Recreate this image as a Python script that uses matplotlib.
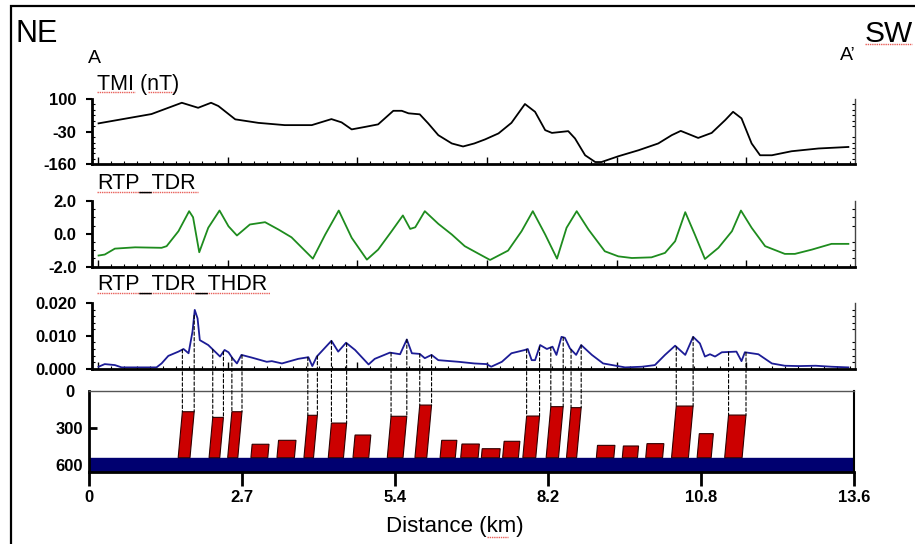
import numpy as np
import matplotlib
matplotlib.use("Agg")
import matplotlib.pyplot as plt
from matplotlib.patches import Polygon, ConnectionPatch, Rectangle
from matplotlib.lines import Line2D
from matplotlib.ticker import MultipleLocator, AutoMinorLocator

plt.rcParams['font.family'] = ['Liberation Sans', 'DejaVu Sans']

# --- TMI profile (nT) ---
tmi_km = [0.17, 1.11, 1.65, 1.94, 2.17, 2.30, 2.60, 3.01, 3.48, 3.96, 4.31, 4.49, 4.67,
          4.91, 5.14, 5.41, 5.56, 5.68, 5.88, 6.03, 6.21, 6.45, 6.65, 6.85, 7.04, 7.28,
          7.51, 7.75, 7.93, 8.11, 8.23, 8.52, 8.64, 8.82, 9.00, 9.11, 9.41, 9.77, 10.12,
          10.36, 10.52, 10.83, 11.07, 11.31, 11.45, 11.60, 11.78, 11.93, 12.14, 12.49,
          12.97, 13.50]
tmi_val = [3, 40, 85, 65, 85, 72, 19, 5, -4, -4, 20, 7, -21,
           -11, -1, 53, 53, 43, 39, 3, -44, -77, -89, -77, -61, -37,
           5, 80, 49, -24, -35, -28, -57, -124, -151, -151, -128, -104, -77,
           -44, -27, -55, -35, 16, 49, 23, -77, -124, -124, -108,
           -97, -91]

# --- RTP_TDR profile ---
tdr_km = [0.17, 0.28, 0.46, 0.82, 1.29, 1.38, 1.59, 1.78, 1.85, 1.96, 2.12, 2.32, 2.48,
          2.63, 2.86, 3.13, 3.37, 3.60, 3.98, 4.20, 4.44, 4.67, 4.94, 5.14, 5.38, 5.58,
          5.71, 5.80, 5.97, 6.21, 6.45, 6.68, 6.92, 7.13, 7.45, 7.69, 7.89, 8.11, 8.32,
          8.49, 8.67, 8.88, 9.17, 9.41, 9.65, 10.00, 10.24, 10.42, 10.60, 10.77, 10.95,
          11.19, 11.43, 11.59, 11.78, 12.02, 12.37, 12.55, 12.85, 13.20, 13.50]
tdr_val = [-1.32, -1.26, -0.90, -0.82, -0.85, -0.75, 0.16, 1.38, 1.01, -1.12, 0.37, 1.42, 0.46,
           -0.10, 0.57, 0.71, 0.26, -0.21, -1.51, -0.04, 1.42, -0.24, -1.57, -0.96, 0.16, 1.12,
           0.30, 0.40, 1.38, 0.61, -0.04, -0.75, -1.20, -1.59, -1.02, 0.16, 1.38, -0.04, -1.51,
           0.37, 1.38, 0.26, -1.06, -1.37, -1.47, -1.43, -1.16, -0.45, 1.32, -0.04, -1.53,
           -0.85, 0.16, 1.42, 0.37, -0.75, -1.22, -1.22, -0.96, -0.61, -0.61]

# --- RTP_TDR_THDR profile ---
thdr_km = [0.17, 0.28, 0.46, 0.58, 1.20, 1.29, 1.41, 1.59, 1.68, 1.77, 1.84, 1.88, 1.93,
           1.97, 2.12, 2.21, 2.33, 2.41, 2.48, 2.55, 2.63, 2.71, 2.89, 3.16, 3.25, 3.43,
           3.72, 3.90, 3.97, 4.05, 4.31, 4.43, 4.57, 4.73, 4.97, 5.08, 5.35, 5.53, 5.65,
           5.74, 5.88, 5.97, 6.09, 6.21, 6.57, 6.85, 7.07, 7.15, 7.34, 7.51, 7.75, 7.80,
           7.87, 7.93, 8.02, 8.14, 8.24, 8.31, 8.40, 8.46, 8.55, 8.66, 8.75, 8.94, 9.14,
           9.53, 9.83, 10.06, 10.24, 10.42, 10.60, 10.74, 10.86, 10.95, 11.04, 11.13, 11.25,
           11.51, 11.60, 11.66, 11.90, 12.14, 12.37, 12.62, 12.92, 13.20, 13.50]
thdr_val = [0.0006, 0.0014, 0.0011, 0.0004, 0.0004, 0.0016, 0.0039, 0.0052, 0.0060, 0.0047,
            0.0113, 0.0179, 0.0153, 0.0087, 0.0072, 0.0057, 0.0037, 0.0057, 0.0050, 0.0032,
            0.0016, 0.0042, 0.0034, 0.0021, 0.0023, 0.0016, 0.0030, 0.0035, 0.0008, 0.0037,
            0.0085, 0.0052, 0.0079, 0.0057, 0.0013, 0.0030, 0.0049, 0.0044, 0.0089, 0.0047,
            0.0045, 0.0032, 0.0042, 0.0026, 0.0021, 0.0016, 0.0014, 0.0006, 0.0021, 0.0047,
            0.0057, 0.0060, 0.0026, 0.0026, 0.0072, 0.0060, 0.0067, 0.0042, 0.0097, 0.0094,
            0.0062, 0.0042, 0.0072, 0.0042, 0.0016, 0.0004, 0.0006, 0.0011, 0.0042, 0.0070,
            0.0042, 0.0097, 0.0077, 0.0037, 0.0044, 0.0037, 0.0050, 0.0052, 0.0023, 0.0050,
            0.0044, 0.0016, 0.0009, 0.0008, 0.0009, 0.0006, 0.0004]

# --- 2D model: source bodies (km, depth) ---
bar_left = [1.66, 2.20, 2.54, 2.90, 3.37, 3.89, 4.31, 4.73, 5.37, 5.88, 6.27, 6.63,
            6.99, 7.38, 7.78, 8.21, 8.57, 9.04, 9.50, 9.92, 10.44, 10.85, 11.37]
bar_right = [1.87, 2.39, 2.72, 3.20, 3.68, 4.06, 4.58, 5.01, 5.65, 6.09, 6.54, 6.94,
             7.31, 7.66, 8.01, 8.43, 8.75, 9.35, 9.77, 10.22, 10.74, 11.10, 11.68]
bar_top = [168, 214, 168, 432, 400, 197, 260, 357, 205, 114, 400, 430,
           468, 408, 203, 127, 135, 441, 446, 427, 122, 346, 195]
linked = [1, 1, 1, 0, 0, 1, 1, 0, 1, 1, 0, 0,
          0, 0, 1, 1, 1, 0, 0, 0, 1, 0, 1]
basement_top = 541
depth_max = 657

dist_labels = ["0", "2.7", "5.4", "8.2", "10.8", "13.6"]

W, H = 915, 544
fig = plt.figure(figsize=(W / 100, H / 100), dpi=100)


def box(l, t, r, b):
    return [l / W, 1 - b / H, (r - l) / W, (b - t) / H]


x_top = ((92 - 89) / 56.25, (855 - 89) / 56.25)


def style_profile(ax, ylim, ticks, labels, nminor):
    ax.set_xlim(x_top)
    ax.set_ylim(ylim)
    ax.spines['top'].set_visible(False)
    for s in ('left', 'bottom'):
        ax.spines[s].set_linewidth(2)
    ax.spines['right'].set_linewidth(1)
    ax.spines['right'].set_color('#444444')
    ax.set_yticks(ticks)
    ax.set_yticklabels(labels, fontsize=12, fontweight='bold')
    ax.yaxis.set_minor_locator(AutoMinorLocator(nminor))
    ax.tick_params(axis='y', which='major', direction='out', length=4, width=1.5,
                   pad=7, left=True, right=False)
    ax.tick_params(axis='y', which='minor', direction='in', length=2.5, width=0.8,
                   left=True, right=True)
    ax.xaxis.set_major_locator(MultipleLocator(2.304, offset=0.165))
    ax.xaxis.set_minor_locator(MultipleLocator(0.2304, offset=0.165))
    ax.tick_params(axis='x', which='major', direction='in', length=5, width=1,
                   labelbottom=False)
    ax.tick_params(axis='x', which='minor', direction='in', length=2.5, width=0.8)


ax1 = fig.add_axes(box(92, 99, 855, 164.3))
ax1.plot(tmi_km, tmi_val, color='black', lw=1.3)
style_profile(ax1, (-160, 100), [100, -30, -160], ["100", "-30", "-160"], 6)

ax2 = fig.add_axes(box(92, 201, 855, 266.7))
ax2.plot(tdr_km, tdr_val, color='#1e8c1e', lw=1.3)
style_profile(ax2, (-2, 2), [2, 0, -2], ["2.0", "0.0", "-2.0"], 4)

ax3 = fig.add_axes(box(92, 303, 855, 368.7))
ax3.plot(thdr_km, thdr_val, color='#1c1c96', lw=1.3)
style_profile(ax3, (0, 0.02), [0.02, 0.01, 0.0], ["0.020", "0.010", "0.000"], 5)

ax4 = fig.add_axes(box(89, 391, 854, 472))
ax4.set_xlim(0, 13.6)
ax4.set_ylim(depth_max, 0)
ax4.axhspan(basement_top, depth_max, color='#000070', zorder=1)
dip = 0.0002
for l, r, t in zip(bar_left, bar_right, bar_top):
    s = dip * (basement_top - t)
    ax4.add_patch(Polygon([(l - s, basement_top), (l, t), (r, t), (r - s, basement_top)],
                          closed=True, fc='#cc0000', ec='#300000', lw=0.8, zorder=2))
ax4.set_xticks(np.linspace(0, 13.6, 6))
ax4.set_xticklabels(dist_labels, fontsize=12, fontweight='bold')
ax4.tick_params(axis='x', direction='out', length=10, width=2, pad=3)
ax4.set_yticks([0, 300, 600])
ax4.set_yticklabels(["0", "300", "600"], fontsize=12, fontweight='bold')
ax4.tick_params(axis='y', direction='in', length=6, width=2, pad=14)
for lab in ax4.get_yticklabels():
    lab.set_ha('center')
yt = ax4.yaxis.get_major_ticks()
yt[0].tick1line.set_visible(False)
yt[2].tick1line.set_visible(False)
ax4.spines['left'].set_linewidth(2)
ax4.spines['bottom'].set_linewidth(2)
ax4.spines['top'].set_linewidth(1)
ax4.spines['top'].set_color('#555555')
ax4.spines['right'].set_linewidth(1.5)

# dashed links from THDR maxima to body edges
for l, r, t, k in zip(bar_left, bar_right, bar_top, linked):
    if not k:
        continue
    for x in (l, r):
        y0 = np.interp(x, thdr_km, thdr_val)
        con = ConnectionPatch(xyA=(x, y0), coordsA=ax3.transData,
                              xyB=(x, t), coordsB=ax4.transData,
                              color='black', lw=0.8, linestyle=(0, (3, 2)))
        fig.add_artist(con)

# text
fig.text(16 / W, 1 - 42 / H, "NE", fontsize=22, va='baseline')
fig.text(865 / W, 1 - 42 / H, "SW", fontsize=21.5, va='baseline')
fig.text(88 / W, 1 - 63 / H, "A", fontsize=14, va='baseline')
fig.text(840 / W, 1 - 60 / H, "A\u2019", fontsize=14, va='baseline')
fig.text(97 / W, 1 - 90 / H, "TMI (nT)", fontsize=15.5, va='baseline')
fig.text(97 / W, 1 - 189 / H, "RTP_TDR", fontsize=15.5, va='baseline')
fig.text(97 / W, 1 - 290 / H, "RTP_TDR_THDR", fontsize=15.5, va='baseline')
fig.text(455 / W, 1 - 532 / H, "Distance (km)", fontsize=16, va='baseline', ha='center')

# spell-check marks under words
for x0, x1, y in [(97, 135, 92), (148, 173, 92), (97, 198, 192), (97, 270, 293),
                  (865, 912, 44), (487, 508, 537)]:
    fig.add_artist(Line2D([x0 / W, x1 / W], [1 - y / H, 1 - y / H],
                          color='#e8605a', lw=1, linestyle=(0, (1, 0.6))))

# outer frame
fig.add_artist(Rectangle((11 / W, -0.1), 1.2, 1.1 - 6 / H, transform=fig.transFigure,
                         fill=False, ec='black', lw=1.6))

fig.savefig("out.png", dpi=100)
